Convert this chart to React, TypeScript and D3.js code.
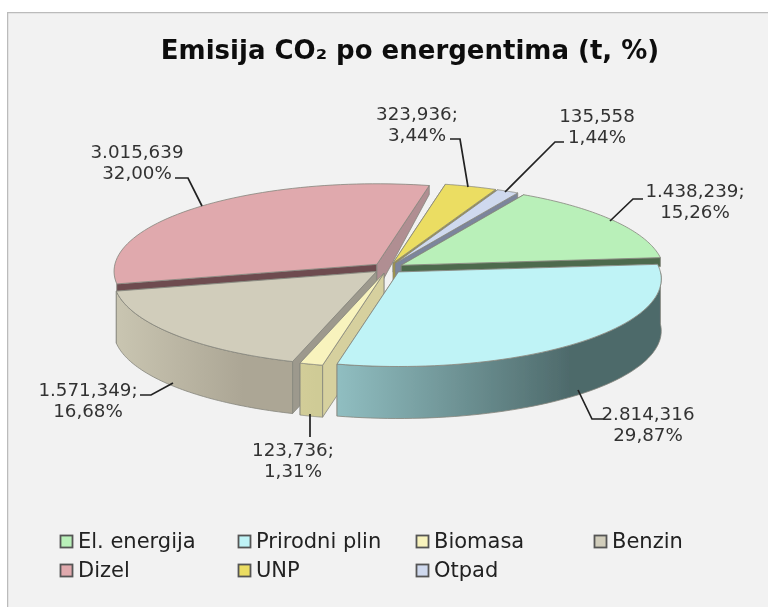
import React from "react";
import * as d3 from "d3";

const categories = ["El. energija", "Prirodni plin", "Biomasa", "Benzin", "Dizel", "UNP", "Otpad"];
const values = [1438239, 2814316, 123736, 1571349, 3015639, 323936, 135558];
const valueLabels = [["1.438,239;", "15,26%"], ["2.814,316", "29,87%"], ["123,736;", "1,31%"], ["1.571,349;", "16,68%"], ["3.015,639", "32,00%"], ["323,936;", "3,44%"], ["135,558", "1,44%"]];
const topColors = ["#b9f0b9", "#bff3f6", "#f8f3bd", "#d1cdbb", "#e0a9ad", "#ebdd62", "#cfd9ee"];
const wallLight = ["#6b8a6b", "#90bec1", "#d2cd98", "#c9c5b1", "#b08e92", "#b8ab40", "#8a93a8"];
const wallDark = ["#4d6b4d", "#4e6a6b", "#cfcb96", "#aca695", "#6e4c50", "#8a8030", "#6f7890"];
const radialWall = ["#4f6d4f", "#7fa5a8", "#d6d09e", "#9d998d", "#b08e92", "#a89a3a", "#7c859c"];
const legendCols = [60, 238, 416, 594];

const CX = 388, CY = 268, RX = 262, RY = 87, P = 0.08, DEPTH = 52, BACK_DEPTH = 9, EXPLODE = 0.06;
const START = (30 * Math.PI) / 180;

const project = (u: number, v: number) => {
  const k = 1 + P * v;
  return [(RX * u) / k, (-RY * v) / k];
};

const pieGen = d3.pie<number>().sort(null).startAngle(START).endAngle(START + 2 * Math.PI);
const arcs = pieGen(values);
const paintOrder = [4, 5, 6, 0, 3, 2, 1];

function slice(i: number) {
  const a = arcs[i];
  const mid = (a.startAngle + a.endAngle) / 2;
  const back = Math.cos(mid) > 0;
  const depth = back ? BACK_DEPTH : DEPTH;
  const ox = project(Math.sin(mid) * EXPLODE, Math.cos(mid) * EXPLODE);
  const apex: [number, number] = [CX + ox[0], CY + ox[1]];
  const pt = (t: number): [number, number] => {
    const p = project(Math.sin(t), Math.cos(t));
    return [apex[0] + p[0], apex[1] + p[1]];
  };
  const arcPts = (s: number, e: number) => d3.range(0, 61).map((j) => pt(s + ((e - s) * j) / 60));
  const line = d3.line();
  const top = line([apex, ...arcPts(a.startAngle, a.endAngle)]) + "Z";
  const wall = (p: [number, number], apexDepth: number) =>
    line([apex, p, [p[0], p[1] + depth], [apex[0], apex[1] + apexDepth]]) + "Z";
  const pi = Math.PI;
  const segs: [number, number][] = [];
  if (!back) {
    for (const k of [0, 2]) {
      const s = Math.max(a.startAngle, pi / 2 + k * pi);
      const e = Math.min(a.endAngle, (3 * pi) / 2 + k * pi);
      if (e > s) segs.push([s, e]);
    }
  }
  const rims = segs.map(([s, e]) => {
    const up = arcPts(s, e);
    const down = up.map(([x, y]) => [x, y + depth] as [number, number]).reverse();
    return { d: line([...up, ...down]) + "Z", x0: d3.min(up, (q) => q[0])!, x1: d3.max(up, (q) => q[0])! };
  });
  return {
    back,
    top,
    startWall: wall(pt(a.startAngle), depth),
    endWall: wall(pt(a.endAngle), back ? depth * 3 : depth),
    rims,
  };
}

const leaders: [number, number][][] = [
  [[610, 221], [633, 199], [643, 199]],
  [[578, 390], [592, 419], [604, 419]],
  [[310, 414], [310, 437]],
  [[173, 383], [151, 395], [140, 395]],
  [[202, 206], [188, 178], [175, 178]],
  [[468, 187], [460, 139], [450, 139]],
  [[505, 192], [555, 142], [564, 142]],
];
const labelPos: [number, number][] = [
  [695, 197], [648, 420], [293, 456], [88, 396], [137, 158], [417, 120], [597, 122],
];

export default function App() {
  const font = "'DejaVu Sans', Verdana, sans-serif";
  const edge = "#85857c";
  return (
    <svg width={768} height={607} style={{ position: "absolute", left: 0, top: 0 }}>
      <defs>
        <filter id="soft" x="0" y="0" width="100%" height="100%">
          <feGaussianBlur stdDeviation="0.45" />
        </filter>
        {categories.map((_, i) => {
          const s = slice(i);
          return s.rims.map((r, j) => (
            <linearGradient key={i + "-" + j} id={`g${i}-${j}`} gradientUnits="userSpaceOnUse" x1={r.x0} x2={r.x1} y1={0} y2={0}>
              <stop offset="0" stopColor={wallLight[i]} />
              <stop offset="0.72" stopColor={wallDark[i]} />
              <stop offset="1" stopColor={wallDark[i]} />
            </linearGradient>
          ));
        })}
      </defs>
      <g filter="url(#soft)">
        <rect x={7} y={12} width={761} height={595} fill="#f2f2f2" />
        <path d="M7 607V12H768" fill="none" stroke="#bbbbbb" strokeWidth={2.5} />
        <text x={410} y={59} textAnchor="middle" fontFamily={font} fontWeight="bold" fontSize={26} fill="#111">
          Emisija CO₂ po energentima (t, %)
        </text>
        {paintOrder.map((i) => {
          const s = slice(i);
          const startFill = i === 4 ? wallDark[4] : radialWall[i];
          const endFill = i === 4 ? wallLight[4] : i === 0 ? wallDark[0] : radialWall[i];
          const startEl = <path d={s.startWall} fill={startFill} />;
          const endEl = <path d={s.endWall} fill={endFill} />;
          return (
            <g key={i} stroke={edge} strokeWidth={0.8} strokeLinejoin="round">
              {s.back ? startEl : endEl}
              {s.back ? endEl : startEl}
              {s.rims.map((r, j) => (
                <path key={j} d={r.d} fill={`url(#g${i}-${j})`} />
              ))}
              <path d={s.top} fill={topColors[i]} />
            </g>
          );
        })}
        {leaders.map((l, i) => (
          <path key={i} d={d3.line()(l)!} fill="none" stroke="#222" strokeWidth={1.7} />
        ))}
        {valueLabels.map((lines, i) => (
          <text key={i} fontFamily={font} fontSize={18.3} fill="#333" textAnchor="middle">
            {lines.map((t, j) => (
              <tspan key={j} x={labelPos[i][0]} y={labelPos[i][1] + j * 20.5}>{t}</tspan>
            ))}
          </text>
        ))}
        {categories.map((c, i) => {
          const col = i % 4, row = Math.floor(i / 4);
          const x = legendCols[col], y = 535 + row * 29;
          return (
            <g key={c}>
              <rect x={x + 0.5} y={y + 0.5} width={12} height={12} fill={topColors[i]} stroke="#555" strokeWidth={1.8} />
              <text x={x + 18} y={y + 13} fontFamily={font} fontSize={21} fill="#222">{c}</text>
            </g>
          );
        })}
      </g>
    </svg>
  );
}
